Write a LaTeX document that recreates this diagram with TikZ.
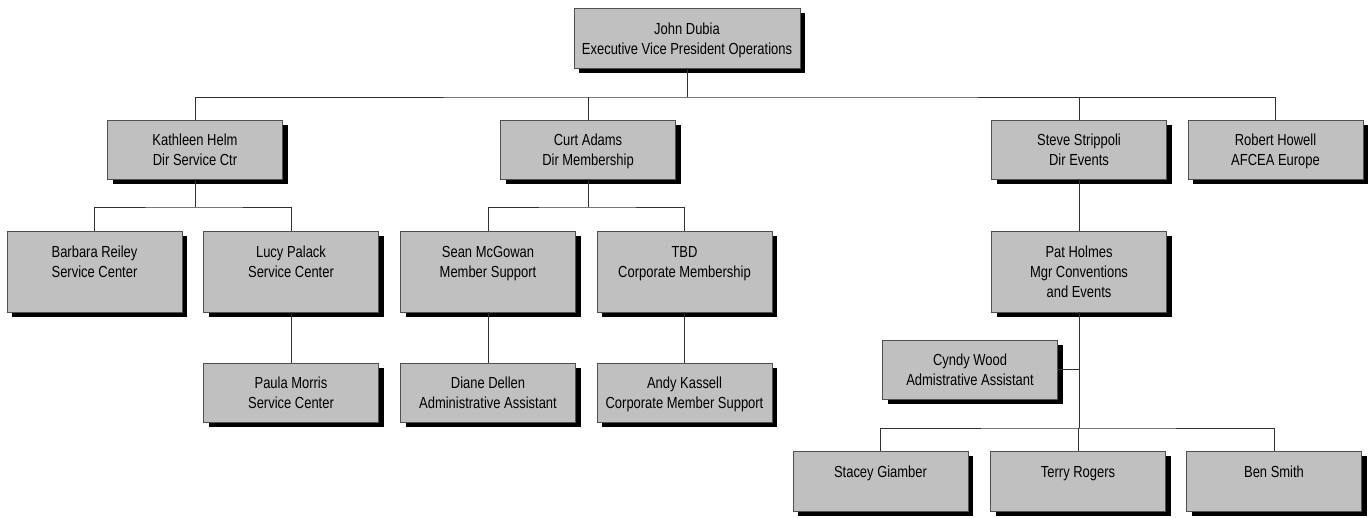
\documentclass[tikz,border=0pt]{standalone}
\usepackage{fontspec}
\setmainfont{Liberation Sans}[FakeStretch=0.81]
\usetikzlibrary{shadows}
\definecolor{boxfill}{HTML}{C0C0C0}
\definecolor{boxline}{HTML}{505050}
\definecolor{wire}{HTML}{303030}
\newcommand\ostrut{\rule[-4pt]{0pt}{20pt}}
\tikzset{
  orgbox/.style={draw=boxline, fill=boxfill, line width=0.9pt, rectangle,
    minimum width=175pt, minimum height=59pt, inner sep=0pt, align=center,
    font=\fontsize{16}{20}\selectfont,
    drop shadow={shadow xshift=5pt, shadow yshift=-5pt, fill=black, opacity=1}},
  tallbox/.style={orgbox, minimum height=81pt},
  wireline/.style={draw=wire, line width=0.9pt}
}
\begin{document}
\begin{tikzpicture}[x=1pt,y=-1pt]
\useasboundingbox (0,0) rectangle (1371,517);
% level 1
\node[orgbox, minimum width=226pt, minimum height=60pt] (john) at (687,38)
  {\ostrut John Dubia\\\ostrut Executive Vice President Operations};
% level 2
\node[orgbox] (kath) at (195,149.5) {\ostrut Kathleen Helm\\\ostrut Dir Service Ctr};
\node[orgbox] (curt) at (588,149.5) {\ostrut Curt Adams\\\ostrut Dir Membership};
\node[orgbox] (steve) at (1079,149.5) {\ostrut Steve Strippoli\\\ostrut Dir Events};
\node[orgbox] (robert) at (1275.5,149.5) {\ostrut Robert Howell\\\ostrut AFCEA Europe};
% level 3
\node[tallbox] (barbara) at (94.5,271.5) {\ostrut Barbara Reiley\\\ostrut Service Center\\\ostrut};
\node[tallbox] (lucy) at (291,271.5) {\ostrut Lucy Palack\\\ostrut Service Center\\\ostrut};
\node[tallbox] (sean) at (488,271.5) {\ostrut Sean McGowan\\\ostrut Member Support\\\ostrut};
\node[tallbox] (tbd) at (684.5,271.5) {\ostrut TBD\\\ostrut Corporate Membership\\\ostrut};
\node[tallbox] (pat) at (1079,271.5) {\ostrut Pat Holmes\\\ostrut Mgr Conventions\\\ostrut and Events};
% level 4
\node[orgbox] (paula) at (291,392.5) {\ostrut Paula Morris\\\ostrut Service Center};
\node[orgbox] (diane) at (488,392.5) {\ostrut Diane Dellen\\\ostrut Administrative Assistant};
\node[orgbox] (andy) at (684.5,392.5) {\ostrut Andy Kassell\\\ostrut Corporate Member Support};
\node[orgbox] (cyndy) at (970,369.5) {\ostrut Cyndy Wood\\\ostrut Admistrative Assistant};
% level 5
\node[orgbox, minimum height=60pt] (stacey) at (880.5,481) {\ostrut Stacey Giamber\\\ostrut};
\node[orgbox, minimum height=60pt] (terry) at (1078,481) {\ostrut Terry Rogers\\\ostrut};
\node[orgbox, minimum height=60pt] (ben) at (1274,481) {\ostrut Ben Smith\\\ostrut};
% connectors
\coordinate (bus1) at (687,97);
\coordinate (bus2) at (195,207);
\coordinate (bus3) at (588,207);
\coordinate (bus5) at (1079,428);
\draw[wireline] (john.south) -- (bus1);
\draw[wireline] (kath.north) |- (bus1) -| (robert.north);
\draw[wireline] (curt.north) -- (curt.north |- bus1);
\draw[wireline] (steve.north) -- (steve.north |- bus1);
\draw[wireline] (kath.south) -- (bus2);
\draw[wireline] (barbara.north) |- (bus2) -| (lucy.north);
\draw[wireline] (curt.south) -- (bus3);
\draw[wireline] (sean.north) |- (bus3) -| (tbd.north);
\draw[wireline] (lucy.south) -- (paula.north);
\draw[wireline] (sean.south) -- (diane.north);
\draw[wireline] (tbd.south) -- (andy.north);
\draw[wireline] (steve.south) -- (pat.north);
\draw[wireline] (pat.south) -- (bus5);
\draw[wireline] (cyndy.east) -- (cyndy.east -| bus5);
\draw[wireline] (stacey.north) |- (bus5) -| (ben.north);
\draw[wireline] (terry.north) -- (terry.north |- bus5);
\end{tikzpicture}
\end{document}
